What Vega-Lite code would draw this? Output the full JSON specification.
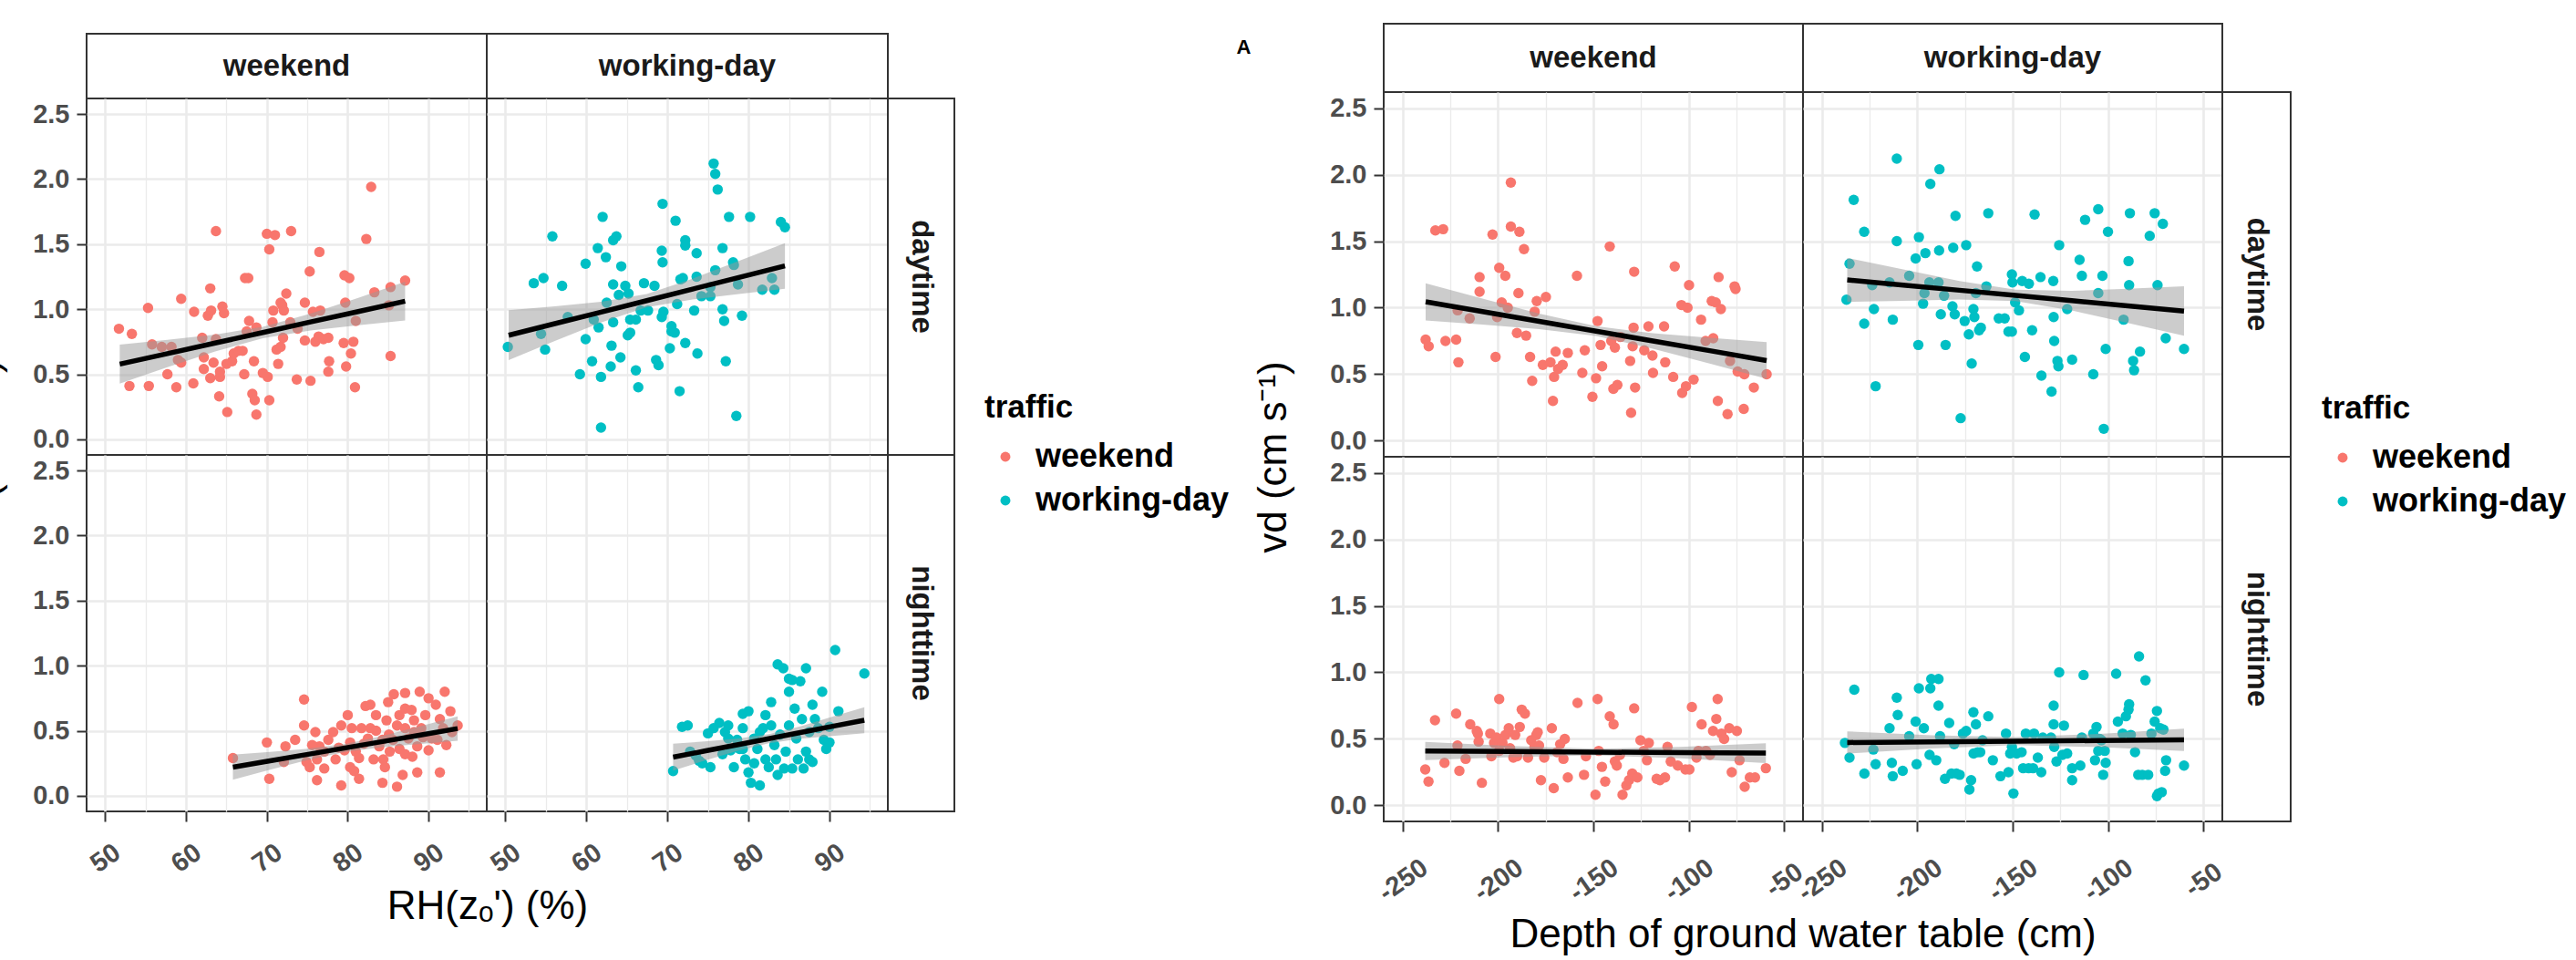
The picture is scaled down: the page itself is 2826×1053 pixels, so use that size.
{
"$schema": "https://vega.github.io/schema/vega-lite/v6.json",
"padding": {"left": -38, "top": 25, "right": 5, "bottom": 5},
"background": "white",
"spacing": 6,
"resolve": {"scale": {"color": "independent"}, "legend": {"color": "independent"}},
"config": {
  "font": "Liberation Sans",
  "view": {"stroke": "#333333", "strokeWidth": 2},
  "axis": {"domain": false, "gridColor": "#EBEBEB", "tickColor": "#333333", "tickSize": 11, "tickWidth": 2, "labelFont": "Liberation Sans", "labelFontSize": 29, "labelFontWeight": "bold", "labelColor": "#4D4D4D", "titleFont": "Liberation Sans", "titleFontSize": 44, "titleFontWeight": "normal", "titleColor": "#000000", "labelOverlap": false, "labelFlush": false, "labelBound": false},
  "legend": {"orient": "none", "titleFontSize": 35, "titleFontWeight": "bold", "titleColor": "#000000", "labelFontSize": 36, "labelFontWeight": "bold", "labelColor": "#000000", "labelLimit": 500, "symbolType": "circle", "symbolSize": 120, "symbolStrokeWidth": 0, "rowPadding": 12, "titlePadding": 18, "labelOffset": 15, "symbolOffset": 5}
},
"datasets": {
"L_we_d": [{"traffic":"weekend","RH":51.7,"vd":0.85},{"traffic":"weekend","RH":53.3,"vd":0.81},{"traffic":"weekend","RH":55.3,"vd":1.01},{"traffic":"weekend","RH":53.0,"vd":0.41},{"traffic":"weekend","RH":55.4,"vd":0.41},{"traffic":"weekend","RH":55.8,"vd":0.73},{"traffic":"weekend","RH":57.0,"vd":0.71},{"traffic":"weekend","RH":58.2,"vd":0.71},{"traffic":"weekend","RH":57.7,"vd":0.50},{"traffic":"weekend","RH":58.8,"vd":0.40},{"traffic":"weekend","RH":59.4,"vd":1.08},{"traffic":"weekend","RH":59.0,"vd":0.61},{"traffic":"weekend","RH":59.4,"vd":0.59},{"traffic":"weekend","RH":60.9,"vd":0.43},{"traffic":"weekend","RH":61.0,"vd":0.98},{"traffic":"weekend","RH":62.0,"vd":0.78},{"traffic":"weekend","RH":62.2,"vd":0.63},{"traffic":"weekend","RH":62.2,"vd":0.54},{"traffic":"weekend","RH":63.0,"vd":1.16},{"traffic":"weekend","RH":62.7,"vd":0.95},{"traffic":"weekend","RH":63.1,"vd":0.99},{"traffic":"weekend","RH":63.4,"vd":0.59},{"traffic":"weekend","RH":63.0,"vd":0.47},{"traffic":"weekend","RH":63.7,"vd":1.60},{"traffic":"weekend","RH":63.7,"vd":0.77},{"traffic":"weekend","RH":64.1,"vd":0.33},{"traffic":"weekend","RH":64.2,"vd":0.48},{"traffic":"weekend","RH":64.2,"vd":0.52},{"traffic":"weekend","RH":64.5,"vd":1.02},{"traffic":"weekend","RH":64.7,"vd":0.97},{"traffic":"weekend","RH":65.1,"vd":0.21},{"traffic":"weekend","RH":65.0,"vd":0.58},{"traffic":"weekend","RH":65.7,"vd":0.60},{"traffic":"weekend","RH":65.9,"vd":0.66},{"traffic":"weekend","RH":66.5,"vd":0.68},{"traffic":"weekend","RH":67.0,"vd":0.68},{"traffic":"weekend","RH":67.2,"vd":0.50},{"traffic":"weekend","RH":67.3,"vd":1.24},{"traffic":"weekend","RH":67.7,"vd":1.24},{"traffic":"weekend","RH":67.5,"vd":0.83},{"traffic":"weekend","RH":67.8,"vd":0.91},{"traffic":"weekend","RH":68.4,"vd":0.60},{"traffic":"weekend","RH":68.2,"vd":0.35},{"traffic":"weekend","RH":68.5,"vd":0.30},{"traffic":"weekend","RH":68.7,"vd":0.19},{"traffic":"weekend","RH":68.7,"vd":0.86},{"traffic":"weekend","RH":69.5,"vd":0.51},{"traffic":"weekend","RH":70.0,"vd":1.58},{"traffic":"weekend","RH":70.3,"vd":1.46},{"traffic":"weekend","RH":70.3,"vd":0.30},{"traffic":"weekend","RH":70.1,"vd":0.48},{"traffic":"weekend","RH":70.7,"vd":0.90},{"traffic":"weekend","RH":71.0,"vd":1.57},{"traffic":"weekend","RH":70.8,"vd":0.99},{"traffic":"weekend","RH":71.4,"vd":0.58},{"traffic":"weekend","RH":71.2,"vd":0.69},{"traffic":"weekend","RH":71.7,"vd":0.71},{"traffic":"weekend","RH":72.0,"vd":0.78},{"traffic":"weekend","RH":71.9,"vd":1.03},{"traffic":"weekend","RH":71.7,"vd":1.05},{"traffic":"weekend","RH":72.1,"vd":0.99},{"traffic":"weekend","RH":72.4,"vd":1.12},{"traffic":"weekend","RH":72.9,"vd":0.90},{"traffic":"weekend","RH":73.0,"vd":1.60},{"traffic":"weekend","RH":73.7,"vd":0.46},{"traffic":"weekend","RH":73.8,"vd":0.85},{"traffic":"weekend","RH":74.7,"vd":0.76},{"traffic":"weekend","RH":74.7,"vd":1.05},{"traffic":"weekend","RH":75.3,"vd":1.29},{"traffic":"weekend","RH":75.4,"vd":0.45},{"traffic":"weekend","RH":75.7,"vd":0.98},{"traffic":"weekend","RH":76.0,"vd":0.75},{"traffic":"weekend","RH":76.6,"vd":0.99},{"traffic":"weekend","RH":76.5,"vd":1.44},{"traffic":"weekend","RH":76.4,"vd":0.79},{"traffic":"weekend","RH":77.0,"vd":0.77},{"traffic":"weekend","RH":77.6,"vd":0.78},{"traffic":"weekend","RH":77.7,"vd":0.60},{"traffic":"weekend","RH":77.6,"vd":0.52},{"traffic":"weekend","RH":79.5,"vd":0.74},{"traffic":"weekend","RH":79.6,"vd":1.26},{"traffic":"weekend","RH":80.2,"vd":1.24},{"traffic":"weekend","RH":79.7,"vd":1.05},{"traffic":"weekend","RH":79.8,"vd":0.56},{"traffic":"weekend","RH":80.4,"vd":0.66},{"traffic":"weekend","RH":80.7,"vd":0.75},{"traffic":"weekend","RH":80.9,"vd":0.40},{"traffic":"weekend","RH":81.0,"vd":0.91},{"traffic":"weekend","RH":82.3,"vd":1.54},{"traffic":"weekend","RH":82.9,"vd":1.94},{"traffic":"weekend","RH":83.3,"vd":1.13},{"traffic":"weekend","RH":85.3,"vd":1.17},{"traffic":"weekend","RH":85.3,"vd":0.64},{"traffic":"weekend","RH":87.1,"vd":1.22},{"traffic":"weekend","RH":85.1,"vd":1.03}],
"L_wd_d": [{"traffic":"working-day","RH":50.3,"vd":0.71},{"traffic":"working-day","RH":53.5,"vd":1.20},{"traffic":"working-day","RH":54.7,"vd":1.24},{"traffic":"working-day","RH":54.4,"vd":0.81},{"traffic":"working-day","RH":54.9,"vd":0.69},{"traffic":"working-day","RH":55.8,"vd":1.56},{"traffic":"working-day","RH":57.0,"vd":1.18},{"traffic":"working-day","RH":57.7,"vd":0.94},{"traffic":"working-day","RH":59.2,"vd":0.50},{"traffic":"working-day","RH":59.9,"vd":1.35},{"traffic":"working-day","RH":59.9,"vd":0.77},{"traffic":"working-day","RH":60.7,"vd":0.60},{"traffic":"working-day","RH":60.9,"vd":0.92},{"traffic":"working-day","RH":61.4,"vd":1.47},{"traffic":"working-day","RH":61.5,"vd":0.86},{"traffic":"working-day","RH":61.8,"vd":0.48},{"traffic":"working-day","RH":61.8,"vd":0.09},{"traffic":"working-day","RH":62.0,"vd":1.71},{"traffic":"working-day","RH":62.4,"vd":1.40},{"traffic":"working-day","RH":63.0,"vd":0.56},{"traffic":"working-day","RH":63.1,"vd":0.72},{"traffic":"working-day","RH":63.3,"vd":0.90},{"traffic":"working-day","RH":63.3,"vd":1.19},{"traffic":"working-day","RH":63.3,"vd":1.53},{"traffic":"working-day","RH":63.7,"vd":1.56},{"traffic":"working-day","RH":64.0,"vd":1.11},{"traffic":"working-day","RH":64.2,"vd":0.63},{"traffic":"working-day","RH":64.3,"vd":1.33},{"traffic":"working-day","RH":64.8,"vd":1.18},{"traffic":"working-day","RH":65.2,"vd":1.12},{"traffic":"working-day","RH":65.4,"vd":0.92},{"traffic":"working-day","RH":65.1,"vd":0.80},{"traffic":"working-day","RH":65.4,"vd":0.82},{"traffic":"working-day","RH":66.1,"vd":0.53},{"traffic":"working-day","RH":66.1,"vd":0.92},{"traffic":"working-day","RH":66.4,"vd":0.40},{"traffic":"working-day","RH":66.7,"vd":0.99},{"traffic":"working-day","RH":67.1,"vd":1.20},{"traffic":"working-day","RH":67.6,"vd":0.99},{"traffic":"working-day","RH":68.4,"vd":1.18},{"traffic":"working-day","RH":68.6,"vd":0.61},{"traffic":"working-day","RH":68.9,"vd":0.57},{"traffic":"working-day","RH":69.3,"vd":1.45},{"traffic":"working-day","RH":69.4,"vd":1.36},{"traffic":"working-day","RH":69.3,"vd":0.94},{"traffic":"working-day","RH":69.5,"vd":0.98},{"traffic":"working-day","RH":69.4,"vd":1.81},{"traffic":"working-day","RH":70.3,"vd":0.70},{"traffic":"working-day","RH":70.5,"vd":0.87},{"traffic":"working-day","RH":70.5,"vd":0.83},{"traffic":"working-day","RH":70.9,"vd":0.82},{"traffic":"working-day","RH":71.0,"vd":1.68},{"traffic":"working-day","RH":71.2,"vd":1.04},{"traffic":"working-day","RH":71.5,"vd":0.37},{"traffic":"working-day","RH":71.6,"vd":1.23},{"traffic":"working-day","RH":71.9,"vd":1.24},{"traffic":"working-day","RH":72.2,"vd":1.53},{"traffic":"working-day","RH":72.2,"vd":1.49},{"traffic":"working-day","RH":72.2,"vd":0.74},{"traffic":"working-day","RH":73.3,"vd":0.99},{"traffic":"working-day","RH":73.6,"vd":1.43},{"traffic":"working-day","RH":73.6,"vd":1.25},{"traffic":"working-day","RH":73.7,"vd":0.66},{"traffic":"working-day","RH":74.2,"vd":1.10},{"traffic":"working-day","RH":75.3,"vd":1.10},{"traffic":"working-day","RH":75.7,"vd":2.12},{"traffic":"working-day","RH":75.9,"vd":2.04},{"traffic":"working-day","RH":76.2,"vd":1.92},{"traffic":"working-day","RH":75.9,"vd":1.30},{"traffic":"working-day","RH":76.8,"vd":1.47},{"traffic":"working-day","RH":76.8,"vd":1.00},{"traffic":"working-day","RH":77.0,"vd":0.91},{"traffic":"working-day","RH":77.2,"vd":0.60},{"traffic":"working-day","RH":77.6,"vd":1.71},{"traffic":"working-day","RH":78.1,"vd":1.36},{"traffic":"working-day","RH":78.2,"vd":1.34},{"traffic":"working-day","RH":78.5,"vd":0.18},{"traffic":"working-day","RH":78.7,"vd":1.19},{"traffic":"working-day","RH":79.2,"vd":0.95},{"traffic":"working-day","RH":80.2,"vd":1.71},{"traffic":"working-day","RH":81.7,"vd":1.15},{"traffic":"working-day","RH":82.9,"vd":1.24},{"traffic":"working-day","RH":83.2,"vd":1.15},{"traffic":"working-day","RH":84.0,"vd":1.67},{"traffic":"working-day","RH":84.5,"vd":1.63},{"traffic":"working-day","RH":62.5,"vd":1.05},{"traffic":"working-day","RH":75.3,"vd":1.17}],
"L_we_n": [{"traffic":"weekend","RH":65.8,"vd":0.29},{"traffic":"weekend","RH":70.0,"vd":0.41},{"traffic":"weekend","RH":70.3,"vd":0.13},{"traffic":"weekend","RH":72.3,"vd":0.38},{"traffic":"weekend","RH":72.1,"vd":0.26},{"traffic":"weekend","RH":74.6,"vd":0.74},{"traffic":"weekend","RH":74.6,"vd":0.54},{"traffic":"weekend","RH":74.9,"vd":0.26},{"traffic":"weekend","RH":75.3,"vd":0.22},{"traffic":"weekend","RH":76.0,"vd":0.49},{"traffic":"weekend","RH":76.2,"vd":0.12},{"traffic":"weekend","RH":76.5,"vd":0.38},{"traffic":"weekend","RH":76.2,"vd":0.28},{"traffic":"weekend","RH":77.1,"vd":0.34},{"traffic":"weekend","RH":77.6,"vd":0.43},{"traffic":"weekend","RH":78.9,"vd":0.37},{"traffic":"weekend","RH":79.2,"vd":0.54},{"traffic":"weekend","RH":80.0,"vd":0.62},{"traffic":"weekend","RH":79.2,"vd":0.08},{"traffic":"weekend","RH":80.3,"vd":0.22},{"traffic":"weekend","RH":80.8,"vd":0.19},{"traffic":"weekend","RH":81.4,"vd":0.29},{"traffic":"weekend","RH":82.0,"vd":0.40},{"traffic":"weekend","RH":80.3,"vd":0.41},{"traffic":"weekend","RH":82.5,"vd":0.44},{"traffic":"weekend","RH":82.8,"vd":0.52},{"traffic":"weekend","RH":82.2,"vd":0.69},{"traffic":"weekend","RH":83.5,"vd":0.62},{"traffic":"weekend","RH":83.5,"vd":0.50},{"traffic":"weekend","RH":83.9,"vd":0.38},{"traffic":"weekend","RH":84.4,"vd":0.28},{"traffic":"weekend","RH":84.6,"vd":0.22},{"traffic":"weekend","RH":85.0,"vd":0.72},{"traffic":"weekend","RH":85.1,"vd":0.47},{"traffic":"weekend","RH":85.2,"vd":0.34},{"traffic":"weekend","RH":85.7,"vd":0.78},{"traffic":"weekend","RH":86.1,"vd":0.54},{"traffic":"weekend","RH":86.4,"vd":0.62},{"traffic":"weekend","RH":86.4,"vd":0.36},{"traffic":"weekend","RH":86.1,"vd":0.07},{"traffic":"weekend","RH":86.8,"vd":0.16},{"traffic":"weekend","RH":87.1,"vd":0.67},{"traffic":"weekend","RH":87.1,"vd":0.79},{"traffic":"weekend","RH":87.5,"vd":0.44},{"traffic":"weekend","RH":87.9,"vd":0.66},{"traffic":"weekend","RH":88.0,"vd":0.30},{"traffic":"weekend","RH":88.2,"vd":0.49},{"traffic":"weekend","RH":88.6,"vd":0.38},{"traffic":"weekend","RH":88.9,"vd":0.80},{"traffic":"weekend","RH":89.1,"vd":0.52},{"traffic":"weekend","RH":89.6,"vd":0.62},{"traffic":"weekend","RH":90.0,"vd":0.35},{"traffic":"weekend","RH":90.4,"vd":0.44},{"traffic":"weekend","RH":90.0,"vd":0.75},{"traffic":"weekend","RH":91.4,"vd":0.59},{"traffic":"weekend","RH":91.8,"vd":0.52},{"traffic":"weekend","RH":92.0,"vd":0.80},{"traffic":"weekend","RH":92.2,"vd":0.39},{"traffic":"weekend","RH":92.7,"vd":0.65},{"traffic":"weekend","RH":92.9,"vd":0.49},{"traffic":"weekend","RH":93.6,"vd":0.54},{"traffic":"weekend","RH":91.4,"vd":0.18},{"traffic":"weekend","RH":88.6,"vd":0.18},{"traffic":"weekend","RH":78.2,"vd":0.49},{"traffic":"weekend","RH":78.5,"vd":0.28},{"traffic":"weekend","RH":79.6,"vd":0.35},{"traffic":"weekend","RH":81.0,"vd":0.34},{"traffic":"weekend","RH":81.7,"vd":0.52},{"traffic":"weekend","RH":83.2,"vd":0.28},{"traffic":"weekend","RH":84.3,"vd":0.43},{"traffic":"weekend","RH":84.8,"vd":0.58},{"traffic":"weekend","RH":85.6,"vd":0.43},{"traffic":"weekend","RH":84.3,"vd":0.10},{"traffic":"weekend","RH":87.1,"vd":0.32},{"traffic":"weekend","RH":88.2,"vd":0.58},{"traffic":"weekend","RH":89.3,"vd":0.45},{"traffic":"weekend","RH":91.1,"vd":0.43},{"traffic":"weekend","RH":73.5,"vd":0.43},{"traffic":"weekend","RH":75.6,"vd":0.39},{"traffic":"weekend","RH":82.8,"vd":0.70},{"traffic":"weekend","RH":80.5,"vd":0.52},{"traffic":"weekend","RH":87.1,"vd":0.52},{"traffic":"weekend","RH":90.9,"vd":0.70},{"traffic":"weekend","RH":81.4,"vd":0.13},{"traffic":"weekend","RH":77.1,"vd":0.21}],
"L_wd_n": [{"traffic":"working-day","RH":70.7,"vd":0.19},{"traffic":"working-day","RH":71.8,"vd":0.53},{"traffic":"working-day","RH":72.5,"vd":0.54},{"traffic":"working-day","RH":72.8,"vd":0.34},{"traffic":"working-day","RH":73.5,"vd":0.31},{"traffic":"working-day","RH":74.3,"vd":0.25},{"traffic":"working-day","RH":75.0,"vd":0.48},{"traffic":"working-day","RH":75.3,"vd":0.22},{"traffic":"working-day","RH":76.4,"vd":0.56},{"traffic":"working-day","RH":77.1,"vd":0.49},{"traffic":"working-day","RH":77.5,"vd":0.54},{"traffic":"working-day","RH":77.8,"vd":0.35},{"traffic":"working-day","RH":78.6,"vd":0.43},{"traffic":"working-day","RH":79.3,"vd":0.63},{"traffic":"working-day","RH":79.3,"vd":0.52},{"traffic":"working-day","RH":79.6,"vd":0.28},{"traffic":"working-day","RH":80.0,"vd":0.18},{"traffic":"working-day","RH":80.3,"vd":0.10},{"traffic":"working-day","RH":80.7,"vd":0.44},{"traffic":"working-day","RH":81.1,"vd":0.36},{"traffic":"working-day","RH":81.4,"vd":0.08},{"traffic":"working-day","RH":81.8,"vd":0.52},{"traffic":"working-day","RH":82.1,"vd":0.28},{"traffic":"working-day","RH":82.5,"vd":0.22},{"traffic":"working-day","RH":82.8,"vd":0.72},{"traffic":"working-day","RH":82.8,"vd":0.54},{"traffic":"working-day","RH":83.2,"vd":0.39},{"traffic":"working-day","RH":83.6,"vd":1.01},{"traffic":"working-day","RH":84.3,"vd":0.98},{"traffic":"working-day","RH":84.6,"vd":0.34},{"traffic":"working-day","RH":85.0,"vd":0.54},{"traffic":"working-day","RH":85.0,"vd":0.80},{"traffic":"working-day","RH":85.4,"vd":0.89},{"traffic":"working-day","RH":85.4,"vd":0.21},{"traffic":"working-day","RH":85.7,"vd":0.67},{"traffic":"working-day","RH":85.9,"vd":0.44},{"traffic":"working-day","RH":86.4,"vd":0.88},{"traffic":"working-day","RH":86.6,"vd":0.59},{"traffic":"working-day","RH":87.1,"vd":0.98},{"traffic":"working-day","RH":87.1,"vd":0.34},{"traffic":"working-day","RH":87.5,"vd":0.49},{"traffic":"working-day","RH":87.9,"vd":0.70},{"traffic":"working-day","RH":87.9,"vd":0.26},{"traffic":"working-day","RH":88.2,"vd":0.59},{"traffic":"working-day","RH":88.6,"vd":0.52},{"traffic":"working-day","RH":89.1,"vd":0.80},{"traffic":"working-day","RH":89.3,"vd":0.43},{"traffic":"working-day","RH":90.0,"vd":0.41},{"traffic":"working-day","RH":90.7,"vd":1.12},{"traffic":"working-day","RH":91.1,"vd":0.65},{"traffic":"working-day","RH":94.3,"vd":0.94},{"traffic":"working-day","RH":75.7,"vd":0.52},{"traffic":"working-day","RH":76.8,"vd":0.32},{"traffic":"working-day","RH":78.2,"vd":0.22},{"traffic":"working-day","RH":78.9,"vd":0.36},{"traffic":"working-day","RH":80.0,"vd":0.65},{"traffic":"working-day","RH":80.7,"vd":0.25},{"traffic":"working-day","RH":81.4,"vd":0.49},{"traffic":"working-day","RH":82.1,"vd":0.62},{"traffic":"working-day","RH":83.4,"vd":0.28},{"traffic":"working-day","RH":83.9,"vd":0.47},{"traffic":"working-day","RH":84.4,"vd":0.21},{"traffic":"working-day","RH":86.1,"vd":0.28},{"traffic":"working-day","RH":86.8,"vd":0.21},{"traffic":"working-day","RH":87.5,"vd":0.28},{"traffic":"working-day","RH":89.6,"vd":0.36},{"traffic":"working-day","RH":83.6,"vd":0.16},{"traffic":"working-day","RH":79.3,"vd":0.36},{"traffic":"working-day","RH":77.5,"vd":0.44},{"traffic":"working-day","RH":73.9,"vd":0.27},{"traffic":"working-day","RH":90.0,"vd":0.53},{"traffic":"working-day","RH":85.0,"vd":0.90}],
"R_we_d": [{"traffic":"weekend","depth":-238.0,"vd":0.76},{"traffic":"weekend","depth":-236.4,"vd":0.71},{"traffic":"weekend","depth":-232.9,"vd":1.58},{"traffic":"weekend","depth":-228.8,"vd":1.59},{"traffic":"weekend","depth":-227.6,"vd":0.75},{"traffic":"weekend","depth":-222.0,"vd":0.76},{"traffic":"weekend","depth":-220.8,"vd":0.59},{"traffic":"weekend","depth":-221.2,"vd":0.98},{"traffic":"weekend","depth":-214.9,"vd":0.92},{"traffic":"weekend","depth":-209.7,"vd":1.23},{"traffic":"weekend","depth":-209.7,"vd":1.12},{"traffic":"weekend","depth":-202.9,"vd":1.55},{"traffic":"weekend","depth":-201.3,"vd":0.63},{"traffic":"weekend","depth":-200.5,"vd":0.93},{"traffic":"weekend","depth":-199.4,"vd":1.30},{"traffic":"weekend","depth":-198.1,"vd":1.04},{"traffic":"weekend","depth":-196.2,"vd":1.24},{"traffic":"weekend","depth":-194.9,"vd":1.00},{"traffic":"weekend","depth":-193.3,"vd":1.94},{"traffic":"weekend","depth":-193.3,"vd":1.61},{"traffic":"weekend","depth":-190.1,"vd":0.81},{"traffic":"weekend","depth":-188.8,"vd":1.57},{"traffic":"weekend","depth":-189.3,"vd":1.11},{"traffic":"weekend","depth":-186.4,"vd":1.44},{"traffic":"weekend","depth":-185.3,"vd":0.79},{"traffic":"weekend","depth":-183.2,"vd":0.63},{"traffic":"weekend","depth":-182.1,"vd":0.45},{"traffic":"weekend","depth":-180.8,"vd":0.97},{"traffic":"weekend","depth":-179.7,"vd":1.05},{"traffic":"weekend","depth":-174.9,"vd":1.08},{"traffic":"weekend","depth":-176.5,"vd":0.57},{"traffic":"weekend","depth":-172.5,"vd":0.59},{"traffic":"weekend","depth":-169.8,"vd":0.67},{"traffic":"weekend","depth":-170.6,"vd":0.48},{"traffic":"weekend","depth":-171.2,"vd":0.30},{"traffic":"weekend","depth":-168.5,"vd":0.54},{"traffic":"weekend","depth":-166.1,"vd":0.57},{"traffic":"weekend","depth":-163.4,"vd":0.66},{"traffic":"weekend","depth":-158.6,"vd":1.24},{"traffic":"weekend","depth":-155.8,"vd":0.51},{"traffic":"weekend","depth":-154.5,"vd":0.68},{"traffic":"weekend","depth":-150.5,"vd":0.33},{"traffic":"weekend","depth":-148.6,"vd":0.47},{"traffic":"weekend","depth":-147.8,"vd":0.90},{"traffic":"weekend","depth":-146.2,"vd":0.72},{"traffic":"weekend","depth":-145.4,"vd":0.56},{"traffic":"weekend","depth":-141.4,"vd":1.46},{"traffic":"weekend","depth":-140.6,"vd":0.75},{"traffic":"weekend","depth":-139.5,"vd":0.39},{"traffic":"weekend","depth":-137.4,"vd":0.42},{"traffic":"weekend","depth":-138.7,"vd":0.70},{"traffic":"weekend","depth":-135.8,"vd":0.78},{"traffic":"weekend","depth":-130.2,"vd":0.21},{"traffic":"weekend","depth":-130.7,"vd":0.60},{"traffic":"weekend","depth":-128.6,"vd":1.27},{"traffic":"weekend","depth":-128.1,"vd":0.40},{"traffic":"weekend","depth":-128.9,"vd":0.85},{"traffic":"weekend","depth":-129.4,"vd":0.71},{"traffic":"weekend","depth":-123.3,"vd":0.68},{"traffic":"weekend","depth":-121.1,"vd":0.86},{"traffic":"weekend","depth":-119.0,"vd":0.64},{"traffic":"weekend","depth":-118.7,"vd":0.51},{"traffic":"weekend","depth":-112.9,"vd":0.86},{"traffic":"weekend","depth":-112.3,"vd":0.59},{"traffic":"weekend","depth":-108.1,"vd":0.48},{"traffic":"weekend","depth":-107.3,"vd":1.31},{"traffic":"weekend","depth":-103.8,"vd":1.02},{"traffic":"weekend","depth":-103.4,"vd":0.36},{"traffic":"weekend","depth":-100.6,"vd":1.00},{"traffic":"weekend","depth":-99.8,"vd":1.17},{"traffic":"weekend","depth":-101.4,"vd":0.41},{"traffic":"weekend","depth":-97.4,"vd":0.46},{"traffic":"weekend","depth":-93.5,"vd":0.91},{"traffic":"weekend","depth":-91.1,"vd":0.75},{"traffic":"weekend","depth":-87.1,"vd":0.77},{"traffic":"weekend","depth":-87.9,"vd":1.05},{"traffic":"weekend","depth":-85.8,"vd":1.04},{"traffic":"weekend","depth":-83.1,"vd":0.99},{"traffic":"weekend","depth":-84.3,"vd":1.23},{"traffic":"weekend","depth":-84.7,"vd":0.30},{"traffic":"weekend","depth":-79.6,"vd":0.20},{"traffic":"weekend","depth":-78.3,"vd":0.60},{"traffic":"weekend","depth":-75.9,"vd":1.16},{"traffic":"weekend","depth":-75.4,"vd":1.14},{"traffic":"weekend","depth":-74.3,"vd":0.52},{"traffic":"weekend","depth":-70.8,"vd":0.50},{"traffic":"weekend","depth":-71.1,"vd":0.24},{"traffic":"weekend","depth":-65.8,"vd":0.40},{"traffic":"weekend","depth":-59.1,"vd":0.50}],
"R_wd_d": [{"traffic":"working-day","depth":-237.2,"vd":1.06},{"traffic":"working-day","depth":-235.6,"vd":1.33},{"traffic":"working-day","depth":-233.4,"vd":1.81},{"traffic":"working-day","depth":-227.9,"vd":1.57},{"traffic":"working-day","depth":-227.9,"vd":0.88},{"traffic":"working-day","depth":-222.8,"vd":0.99},{"traffic":"working-day","depth":-223.7,"vd":1.17},{"traffic":"working-day","depth":-221.9,"vd":0.41},{"traffic":"working-day","depth":-214.6,"vd":1.19},{"traffic":"working-day","depth":-212.9,"vd":0.91},{"traffic":"working-day","depth":-210.8,"vd":2.12},{"traffic":"working-day","depth":-210.8,"vd":1.50},{"traffic":"working-day","depth":-204.3,"vd":1.24},{"traffic":"working-day","depth":-200.9,"vd":1.37},{"traffic":"working-day","depth":-199.5,"vd":0.72},{"traffic":"working-day","depth":-199.2,"vd":1.53},{"traffic":"working-day","depth":-197.0,"vd":1.03},{"traffic":"working-day","depth":-196.3,"vd":1.11},{"traffic":"working-day","depth":-195.8,"vd":1.41},{"traffic":"working-day","depth":-193.7,"vd":1.19},{"traffic":"working-day","depth":-193.2,"vd":1.93},{"traffic":"working-day","depth":-188.9,"vd":1.19},{"traffic":"working-day","depth":-188.6,"vd":1.43},{"traffic":"working-day","depth":-188.4,"vd":2.04},{"traffic":"working-day","depth":-187.7,"vd":0.95},{"traffic":"working-day","depth":-186.0,"vd":1.09},{"traffic":"working-day","depth":-185.2,"vd":0.72},{"traffic":"working-day","depth":-181.6,"vd":1.01},{"traffic":"working-day","depth":-181.2,"vd":1.45},{"traffic":"working-day","depth":-180.4,"vd":0.95},{"traffic":"working-day","depth":-180.0,"vd":1.69},{"traffic":"working-day","depth":-175.2,"vd":0.90},{"traffic":"working-day","depth":-174.4,"vd":1.47},{"traffic":"working-day","depth":-173.0,"vd":0.80},{"traffic":"working-day","depth":-171.5,"vd":0.58},{"traffic":"working-day","depth":-170.6,"vd":0.99},{"traffic":"working-day","depth":-170.1,"vd":0.93},{"traffic":"working-day","depth":-169.3,"vd":1.11},{"traffic":"working-day","depth":-168.7,"vd":1.31},{"traffic":"working-day","depth":-166.7,"vd":0.85},{"traffic":"working-day","depth":-167.6,"vd":0.83},{"traffic":"working-day","depth":-163.8,"vd":1.16},{"traffic":"working-day","depth":-162.8,"vd":1.71},{"traffic":"working-day","depth":-177.3,"vd":0.17},{"traffic":"working-day","depth":-157.3,"vd":0.92},{"traffic":"working-day","depth":-154.2,"vd":0.92},{"traffic":"working-day","depth":-152.2,"vd":0.82},{"traffic":"working-day","depth":-150.4,"vd":0.82},{"traffic":"working-day","depth":-150.4,"vd":1.25},{"traffic":"working-day","depth":-150.1,"vd":1.19},{"traffic":"working-day","depth":-148.7,"vd":1.04},{"traffic":"working-day","depth":-146.7,"vd":0.98},{"traffic":"working-day","depth":-145.0,"vd":1.20},{"traffic":"working-day","depth":-143.6,"vd":0.63},{"traffic":"working-day","depth":-141.5,"vd":1.18},{"traffic":"working-day","depth":-139.8,"vd":0.83},{"traffic":"working-day","depth":-138.5,"vd":1.70},{"traffic":"working-day","depth":-135.4,"vd":1.23},{"traffic":"working-day","depth":-134.9,"vd":0.49},{"traffic":"working-day","depth":-129.6,"vd":0.37},{"traffic":"working-day","depth":-128.7,"vd":1.20},{"traffic":"working-day","depth":-128.5,"vd":0.93},{"traffic":"working-day","depth":-128.2,"vd":0.75},{"traffic":"working-day","depth":-126.5,"vd":0.60},{"traffic":"working-day","depth":-126.0,"vd":0.56},{"traffic":"working-day","depth":-125.6,"vd":1.47},{"traffic":"working-day","depth":-121.4,"vd":0.99},{"traffic":"working-day","depth":-118.8,"vd":0.61},{"traffic":"working-day","depth":-114.9,"vd":1.36},{"traffic":"working-day","depth":-113.7,"vd":1.24},{"traffic":"working-day","depth":-112.0,"vd":1.66},{"traffic":"working-day","depth":-107.7,"vd":0.50},{"traffic":"working-day","depth":-105.1,"vd":1.74},{"traffic":"working-day","depth":-105.1,"vd":1.11},{"traffic":"working-day","depth":-102.9,"vd":1.24},{"traffic":"working-day","depth":-102.2,"vd":0.09},{"traffic":"working-day","depth":-101.2,"vd":0.69},{"traffic":"working-day","depth":-100.0,"vd":1.57},{"traffic":"working-day","depth":-91.8,"vd":0.91},{"traffic":"working-day","depth":-89.2,"vd":1.35},{"traffic":"working-day","depth":-88.9,"vd":1.17},{"traffic":"working-day","depth":-88.5,"vd":1.71},{"traffic":"working-day","depth":-86.8,"vd":0.60},{"traffic":"working-day","depth":-86.3,"vd":0.53},{"traffic":"working-day","depth":-83.2,"vd":0.67},{"traffic":"working-day","depth":-78.1,"vd":1.54},{"traffic":"working-day","depth":-75.5,"vd":1.71},{"traffic":"working-day","depth":-74.0,"vd":1.17},{"traffic":"working-day","depth":-71.2,"vd":1.63},{"traffic":"working-day","depth":-69.7,"vd":0.77},{"traffic":"working-day","depth":-60.1,"vd":0.69}],
"R_we_n": [{"traffic":"weekend","depth":-238.2,"vd":0.27},{"traffic":"weekend","depth":-236.5,"vd":0.18},{"traffic":"weekend","depth":-233.1,"vd":0.64},{"traffic":"weekend","depth":-228.1,"vd":0.32},{"traffic":"weekend","depth":-222.0,"vd":0.69},{"traffic":"weekend","depth":-220.3,"vd":0.26},{"traffic":"weekend","depth":-221.3,"vd":0.45},{"traffic":"weekend","depth":-217.0,"vd":0.35},{"traffic":"weekend","depth":-214.6,"vd":0.61},{"traffic":"weekend","depth":-211.2,"vd":0.56},{"traffic":"weekend","depth":-210.6,"vd":0.54},{"traffic":"weekend","depth":-208.5,"vd":0.17},{"traffic":"weekend","depth":-210.2,"vd":0.48},{"traffic":"weekend","depth":-204.1,"vd":0.54},{"traffic":"weekend","depth":-203.5,"vd":0.37},{"traffic":"weekend","depth":-202.1,"vd":0.47},{"traffic":"weekend","depth":-200.8,"vd":0.51},{"traffic":"weekend","depth":-199.4,"vd":0.80},{"traffic":"weekend","depth":-199.4,"vd":0.41},{"traffic":"weekend","depth":-197.7,"vd":0.47},{"traffic":"weekend","depth":-196.1,"vd":0.53},{"traffic":"weekend","depth":-194.4,"vd":0.58},{"traffic":"weekend","depth":-193.7,"vd":0.43},{"traffic":"weekend","depth":-192.0,"vd":0.36},{"traffic":"weekend","depth":-191.0,"vd":0.53},{"traffic":"weekend","depth":-190.0,"vd":0.37},{"traffic":"weekend","depth":-188.6,"vd":0.59},{"traffic":"weekend","depth":-187.6,"vd":0.72},{"traffic":"weekend","depth":-185.9,"vd":0.69},{"traffic":"weekend","depth":-184.3,"vd":0.36},{"traffic":"weekend","depth":-182.6,"vd":0.49},{"traffic":"weekend","depth":-180.9,"vd":0.44},{"traffic":"weekend","depth":-179.9,"vd":0.53},{"traffic":"weekend","depth":-179.2,"vd":0.55},{"traffic":"weekend","depth":-178.5,"vd":0.45},{"traffic":"weekend","depth":-177.5,"vd":0.19},{"traffic":"weekend","depth":-175.8,"vd":0.36},{"traffic":"weekend","depth":-171.8,"vd":0.58},{"traffic":"weekend","depth":-170.8,"vd":0.13},{"traffic":"weekend","depth":-169.1,"vd":0.40},{"traffic":"weekend","depth":-167.4,"vd":0.46},{"traffic":"weekend","depth":-165.7,"vd":0.35},{"traffic":"weekend","depth":-165.0,"vd":0.50},{"traffic":"weekend","depth":-163.4,"vd":0.21},{"traffic":"weekend","depth":-158.3,"vd":0.77},{"traffic":"weekend","depth":-154.9,"vd":0.23},{"traffic":"weekend","depth":-153.9,"vd":0.37},{"traffic":"weekend","depth":-148.9,"vd":0.08},{"traffic":"weekend","depth":-147.8,"vd":0.80},{"traffic":"weekend","depth":-147.2,"vd":0.41},{"traffic":"weekend","depth":-145.5,"vd":0.29},{"traffic":"weekend","depth":-143.8,"vd":0.18},{"traffic":"weekend","depth":-141.4,"vd":0.67},{"traffic":"weekend","depth":-139.4,"vd":0.61},{"traffic":"weekend","depth":-138.7,"vd":0.33},{"traffic":"weekend","depth":-137.7,"vd":0.30},{"traffic":"weekend","depth":-136.0,"vd":0.38},{"traffic":"weekend","depth":-134.7,"vd":0.08},{"traffic":"weekend","depth":-132.7,"vd":0.15},{"traffic":"weekend","depth":-131.3,"vd":0.19},{"traffic":"weekend","depth":-129.6,"vd":0.24},{"traffic":"weekend","depth":-128.6,"vd":0.73},{"traffic":"weekend","depth":-126.9,"vd":0.21},{"traffic":"weekend","depth":-125.3,"vd":0.49},{"traffic":"weekend","depth":-123.6,"vd":0.41},{"traffic":"weekend","depth":-121.9,"vd":0.34},{"traffic":"weekend","depth":-120.9,"vd":0.47},{"traffic":"weekend","depth":-116.8,"vd":0.20},{"traffic":"weekend","depth":-115.1,"vd":0.19},{"traffic":"weekend","depth":-112.4,"vd":0.21},{"traffic":"weekend","depth":-111.1,"vd":0.44},{"traffic":"weekend","depth":-109.4,"vd":0.33},{"traffic":"weekend","depth":-105.7,"vd":0.30},{"traffic":"weekend","depth":-101.7,"vd":0.27},{"traffic":"weekend","depth":-99.6,"vd":0.27},{"traffic":"weekend","depth":-98.3,"vd":0.74},{"traffic":"weekend","depth":-95.9,"vd":0.36},{"traffic":"weekend","depth":-94.9,"vd":0.41},{"traffic":"weekend","depth":-93.2,"vd":0.61},{"traffic":"weekend","depth":-90.9,"vd":0.41},{"traffic":"weekend","depth":-88.8,"vd":0.38},{"traffic":"weekend","depth":-87.2,"vd":0.56},{"traffic":"weekend","depth":-85.5,"vd":0.65},{"traffic":"weekend","depth":-84.8,"vd":0.80},{"traffic":"weekend","depth":-82.8,"vd":0.54},{"traffic":"weekend","depth":-81.4,"vd":0.50},{"traffic":"weekend","depth":-78.7,"vd":0.58},{"traffic":"weekend","depth":-77.4,"vd":0.25},{"traffic":"weekend","depth":-74.7,"vd":0.56},{"traffic":"weekend","depth":-73.3,"vd":0.34},{"traffic":"weekend","depth":-70.6,"vd":0.14},{"traffic":"weekend","depth":-67.9,"vd":0.21},{"traffic":"weekend","depth":-65.2,"vd":0.21},{"traffic":"weekend","depth":-59.5,"vd":0.28}],
"R_wd_n": [{"traffic":"working-day","depth":-238.0,"vd":0.47},{"traffic":"working-day","depth":-235.6,"vd":0.36},{"traffic":"working-day","depth":-233.1,"vd":0.87},{"traffic":"working-day","depth":-227.8,"vd":0.24},{"traffic":"working-day","depth":-223.1,"vd":0.42},{"traffic":"working-day","depth":-221.9,"vd":0.31},{"traffic":"working-day","depth":-214.6,"vd":0.58},{"traffic":"working-day","depth":-213.4,"vd":0.32},{"traffic":"working-day","depth":-212.9,"vd":0.22},{"traffic":"working-day","depth":-210.8,"vd":0.81},{"traffic":"working-day","depth":-210.3,"vd":0.68},{"traffic":"working-day","depth":-207.7,"vd":0.26},{"traffic":"working-day","depth":-204.3,"vd":0.52},{"traffic":"working-day","depth":-200.9,"vd":0.63},{"traffic":"working-day","depth":-200.4,"vd":0.31},{"traffic":"working-day","depth":-199.2,"vd":0.88},{"traffic":"working-day","depth":-196.6,"vd":0.58},{"traffic":"working-day","depth":-193.6,"vd":0.38},{"traffic":"working-day","depth":-193.2,"vd":0.88},{"traffic":"working-day","depth":-192.7,"vd":0.95},{"traffic":"working-day","depth":-190.1,"vd":0.34},{"traffic":"working-day","depth":-188.9,"vd":0.95},{"traffic":"working-day","depth":-188.9,"vd":0.75},{"traffic":"working-day","depth":-188.1,"vd":0.52},{"traffic":"working-day","depth":-185.5,"vd":0.20},{"traffic":"working-day","depth":-183.3,"vd":0.62},{"traffic":"working-day","depth":-182.1,"vd":0.24},{"traffic":"working-day","depth":-180.7,"vd":0.46},{"traffic":"working-day","depth":-179.5,"vd":0.24},{"traffic":"working-day","depth":-177.8,"vd":0.23},{"traffic":"working-day","depth":-176.1,"vd":0.54},{"traffic":"working-day","depth":-174.4,"vd":0.56},{"traffic":"working-day","depth":-172.7,"vd":0.12},{"traffic":"working-day","depth":-171.8,"vd":0.19},{"traffic":"working-day","depth":-170.6,"vd":0.70},{"traffic":"working-day","depth":-170.5,"vd":0.39},{"traffic":"working-day","depth":-169.3,"vd":0.61},{"traffic":"working-day","depth":-168.4,"vd":0.40},{"traffic":"working-day","depth":-167.0,"vd":0.40},{"traffic":"working-day","depth":-165.8,"vd":0.49},{"traffic":"working-day","depth":-162.8,"vd":0.67},{"traffic":"working-day","depth":-160.4,"vd":0.34},{"traffic":"working-day","depth":-156.4,"vd":0.22},{"traffic":"working-day","depth":-153.5,"vd":0.54},{"traffic":"working-day","depth":-152.2,"vd":0.25},{"traffic":"working-day","depth":-151.3,"vd":0.39},{"traffic":"working-day","depth":-149.6,"vd":0.09},{"traffic":"working-day","depth":-150.4,"vd":0.44},{"traffic":"working-day","depth":-147.9,"vd":0.39},{"traffic":"working-day","depth":-145.3,"vd":0.40},{"traffic":"working-day","depth":-144.5,"vd":0.28},{"traffic":"working-day","depth":-143.1,"vd":0.54},{"traffic":"working-day","depth":-141.6,"vd":0.28},{"traffic":"working-day","depth":-139.3,"vd":0.28},{"traffic":"working-day","depth":-138.8,"vd":0.54},{"traffic":"working-day","depth":-136.8,"vd":0.36},{"traffic":"working-day","depth":-135.0,"vd":0.25},{"traffic":"working-day","depth":-134.2,"vd":0.51},{"traffic":"working-day","depth":-129.9,"vd":0.51},{"traffic":"working-day","depth":-128.5,"vd":0.61},{"traffic":"working-day","depth":-128.5,"vd":0.75},{"traffic":"working-day","depth":-128.2,"vd":0.44},{"traffic":"working-day","depth":-127.0,"vd":0.33},{"traffic":"working-day","depth":-125.6,"vd":1.00},{"traffic":"working-day","depth":-123.9,"vd":0.38},{"traffic":"working-day","depth":-123.1,"vd":0.60},{"traffic":"working-day","depth":-121.4,"vd":0.39},{"traffic":"working-day","depth":-118.8,"vd":0.28},{"traffic":"working-day","depth":-118.8,"vd":0.19},{"traffic":"working-day","depth":-114.5,"vd":0.30},{"traffic":"working-day","depth":-113.7,"vd":0.51},{"traffic":"working-day","depth":-112.8,"vd":0.98},{"traffic":"working-day","depth":-107.7,"vd":0.54},{"traffic":"working-day","depth":-106.8,"vd":0.34},{"traffic":"working-day","depth":-106.0,"vd":0.59},{"traffic":"working-day","depth":-105.1,"vd":0.41},{"traffic":"working-day","depth":-104.3,"vd":0.50},{"traffic":"working-day","depth":-103.4,"vd":0.49},{"traffic":"working-day","depth":-102.5,"vd":0.23},{"traffic":"working-day","depth":-101.7,"vd":0.41},{"traffic":"working-day","depth":-101.2,"vd":0.32},{"traffic":"working-day","depth":-95.7,"vd":0.99},{"traffic":"working-day","depth":-94.8,"vd":0.63},{"traffic":"working-day","depth":-92.3,"vd":0.54},{"traffic":"working-day","depth":-90.6,"vd":0.67},{"traffic":"working-day","depth":-88.9,"vd":0.76},{"traffic":"working-day","depth":-89.2,"vd":0.72},{"traffic":"working-day","depth":-88.0,"vd":0.53},{"traffic":"working-day","depth":-85.8,"vd":0.40},{"traffic":"working-day","depth":-84.1,"vd":0.23},{"traffic":"working-day","depth":-83.7,"vd":1.12},{"traffic":"working-day","depth":-82.0,"vd":0.23},{"traffic":"working-day","depth":-80.3,"vd":0.94},{"traffic":"working-day","depth":-78.9,"vd":0.23},{"traffic":"working-day","depth":-77.2,"vd":0.54},{"traffic":"working-day","depth":-75.5,"vd":0.63},{"traffic":"working-day","depth":-74.3,"vd":0.71},{"traffic":"working-day","depth":-74.3,"vd":0.07},{"traffic":"working-day","depth":-73.5,"vd":0.09},{"traffic":"working-day","depth":-72.6,"vd":0.58},{"traffic":"working-day","depth":-71.8,"vd":0.10},{"traffic":"working-day","depth":-70.9,"vd":0.57},{"traffic":"working-day","depth":-70.0,"vd":0.26},{"traffic":"working-day","depth":-69.5,"vd":0.34},{"traffic":"working-day","depth":-60.1,"vd":0.30}],
"fL_we_d": [{"RH":51.8,"fit":0.578,"lo":0.428,"hi":0.728},{"RH":57.7,"fit":0.659,"lo":0.554,"hi":0.764},{"RH":63.6,"fit":0.740,"lo":0.675,"hi":0.805},{"RH":69.5,"fit":0.821,"lo":0.777,"hi":0.865},{"RH":75.4,"fit":0.902,"lo":0.837,"hi":0.967},{"RH":81.3,"fit":0.982,"lo":0.877,"hi":1.087},{"RH":87.1,"fit":1.062,"lo":0.913,"hi":1.211}],
"fL_wd_d": [{"RH":50.4,"fit":0.800,"lo":0.608,"hi":0.992},{"RH":56.1,"fit":0.889,"lo":0.756,"hi":1.022},{"RH":61.8,"fit":0.978,"lo":0.898,"hi":1.058},{"RH":67.45,"fit":1.066,"lo":1.015,"hi":1.117},{"RH":73.1,"fit":1.155,"lo":1.075,"hi":1.235},{"RH":78.8,"fit":1.244,"lo":1.117,"hi":1.371},{"RH":84.5,"fit":1.333,"lo":1.158,"hi":1.508}],
"fL_we_n": [{"RH":65.8,"fit":0.220,"lo":0.123,"hi":0.317},{"RH":70.4,"fit":0.269,"lo":0.200,"hi":0.338},{"RH":75.1,"fit":0.319,"lo":0.276,"hi":0.362},{"RH":79.7,"fit":0.368,"lo":0.338,"hi":0.398},{"RH":84.3,"fit":0.417,"lo":0.374,"hi":0.460},{"RH":89.0,"fit":0.467,"lo":0.398,"hi":0.536},{"RH":93.6,"fit":0.517,"lo":0.423,"hi":0.611}],
"fL_wd_n": [{"RH":70.7,"fit":0.297,"lo":0.194,"hi":0.400},{"RH":74.6,"fit":0.344,"lo":0.270,"hi":0.418},{"RH":78.6,"fit":0.392,"lo":0.345,"hi":0.439},{"RH":82.5,"fit":0.439,"lo":0.404,"hi":0.474},{"RH":86.4,"fit":0.486,"lo":0.439,"hi":0.533},{"RH":90.4,"fit":0.534,"lo":0.460,"hi":0.608},{"RH":94.3,"fit":0.581,"lo":0.481,"hi":0.681}],
"fR_we_d": [{"depth":-238.0,"fit":1.044,"lo":0.904,"hi":1.184},{"depth":-208.2,"fit":0.971,"lo":0.874,"hi":1.068},{"depth":-178.4,"fit":0.897,"lo":0.839,"hi":0.955},{"depth":-148.6,"fit":0.824,"lo":0.787,"hi":0.861},{"depth":-118.8,"fit":0.750,"lo":0.692,"hi":0.808},{"depth":-89.0,"fit":0.677,"lo":0.580,"hi":0.774},{"depth":-59.1,"fit":0.603,"lo":0.465,"hi":0.741}],
"fR_wd_d": [{"depth":-236.8,"fit":1.209,"lo":1.044,"hi":1.374},{"depth":-207.4,"fit":1.170,"lo":1.052,"hi":1.288},{"depth":-177.9,"fit":1.131,"lo":1.061,"hi":1.201},{"depth":-148.5,"fit":1.092,"lo":1.049,"hi":1.135},{"depth":-119.0,"fit":1.053,"lo":0.979,"hi":1.127},{"depth":-89.6,"fit":1.014,"lo":0.886,"hi":1.142},{"depth":-60.1,"fit":0.975,"lo":0.789,"hi":1.161}],
"fR_we_n": [{"depth":-238.2,"fit":0.409,"lo":0.341,"hi":0.477},{"depth":-193.5,"fit":0.405,"lo":0.363,"hi":0.447},{"depth":-148.9,"fit":0.401,"lo":0.376,"hi":0.426},{"depth":-104.2,"fit":0.397,"lo":0.354,"hi":0.440},{"depth":-59.5,"fit":0.393,"lo":0.318,"hi":0.468}],
"fR_wd_n": [{"depth":-236.8,"fit":0.473,"lo":0.389,"hi":0.557},{"depth":-192.6,"fit":0.478,"lo":0.428,"hi":0.528},{"depth":-148.4,"fit":0.483,"lo":0.453,"hi":0.513},{"depth":-104.3,"fit":0.488,"lo":0.438,"hi":0.538},{"depth":-60.1,"fit":0.493,"lo":0.409,"hi":0.577}]
},
"hconcat": [
{
  "columns": 3, "align": "each", "bounds": "flush", "spacing": 0,
  "concat": [
    {"width": 439, "height": 11, "view": {"stroke": null}, "data": {"values": [{"k": ""}]}, "mark": {"type": "text"}, "encoding": {"text": {"field": "k", "type": "nominal"}}},
    {"width": 440, "height": 11, "view": {"stroke": null}, "data": {"values": [{"k": ""}]}, "mark": {"type": "text"}, "encoding": {"text": {"field": "k", "type": "nominal"}}},
    {"width": 73, "height": 11, "view": {"stroke": null}, "data": {"values": [{"k": ""}]}, "mark": {"type": "text"}, "encoding": {"text": {"field": "k", "type": "nominal"}}},
    {"width": 439, "height": 71, "data": {"values": [{"traffic": "weekend"}]}, "mark": {"type": "text", "fontSize": 33, "fontWeight": "bold", "color": "#1A1A1A"}, "encoding": {"text": {"field": "traffic", "type": "nominal"}, "y": {"datum": 0.5, "type": "quantitative", "scale": {"domain": [0, 1]}, "axis": {"title": null, "labels": false, "ticks": false, "grid": false, "domain": false}}}},
    {"width": 440, "height": 71, "data": {"values": [{"traffic": "working-day"}]}, "mark": {"type": "text", "fontSize": 33, "fontWeight": "bold", "color": "#1A1A1A"}, "encoding": {"text": {"field": "traffic", "type": "nominal"}, "y": {"datum": 0.5, "type": "quantitative", "scale": {"domain": [0, 1]}, "axis": {"title": null, "labels": false, "ticks": false, "grid": false, "domain": false}}}},
    {"width": 73, "height": 71, "view": {"stroke": null}, "data": {"values": [{"k": ""}]}, "mark": {"type": "text"}, "encoding": {"text": {"field": "k", "type": "nominal"}}},
    {"width": 439, "height": 391, "layer": [
      {"data": {"name": "L_we_d"}, "mark": {"type": "circle", "size": 130, "opacity": 1}, "encoding": {
        "x": {"field": "RH", "type": "quantitative", "scale": {"domain": [47.7, 97.2], "nice": false, "zero": false}, "axis": {"values": [50,55,60,65,70,75,80,85,90,95], "gridWidth": {"condition": {"test": "datum.value % 10 !== 0", "value": 1.3}, "value": 2.6}, "labels": false, "ticks": false, "title": null}},
        "y": {"field": "vd", "type": "quantitative", "scale": {"domain": [-0.12, 2.62], "nice": false, "zero": false}, "axis": {"values": [0,0.25,0.5,0.75,1,1.25,1.5,1.75,2,2.25,2.5], "gridWidth": {"condition": {"test": "datum.value % 0.5 !== 0", "value": 1.3}, "value": 2.6}, "tickOpacity": {"condition": {"test": "datum.value % 0.5 !== 0", "value": 0}, "value": 1}, "labelExpr": "datum.value % 0.5 === 0 ? format(datum.value, '.1f') : ''", "labelPadding": 8, "title": "vd  (cm  s⁻¹)", "titleX": -97, "titleY": 391, "titleAngle": -90, "titleAlign": "center", "titleBaseline": "alphabetic"}},
        "color": {"field": "traffic", "type": "nominal", "scale": {"domain": ["weekend", "working-day"], "range": ["#F8766D", "#00BFC4"]}, "legend": {"title": "traffic", "legendX": 985, "legendY": 404}}}},
      {"data": {"name": "fL_we_d"}, "mark": {"type": "area", "color": "#999999", "opacity": 0.5}, "encoding": {"x": {"field": "RH", "type": "quantitative"}, "y": {"field": "lo", "type": "quantitative"}, "y2": {"field": "hi"}}},
      {"data": {"name": "fL_we_d"}, "mark": {"type": "line", "color": "#000000", "strokeWidth": 5.5}, "encoding": {"x": {"field": "RH", "type": "quantitative"}, "y": {"field": "fit", "type": "quantitative"}}}
    ]},
    {"width": 440, "height": 391, "layer": [
      {"data": {"name": "L_wd_d"}, "mark": {"type": "circle", "size": 130, "opacity": 1}, "encoding": {
        "x": {"field": "RH", "type": "quantitative", "scale": {"domain": [47.7, 97.2], "nice": false, "zero": false}, "axis": {"values": [50,55,60,65,70,75,80,85,90,95], "gridWidth": {"condition": {"test": "datum.value % 10 !== 0", "value": 1.3}, "value": 2.6}, "labels": false, "ticks": false, "title": null}},
        "y": {"field": "vd", "type": "quantitative", "scale": {"domain": [-0.12, 2.62], "nice": false, "zero": false}, "axis": {"values": [0,0.25,0.5,0.75,1,1.25,1.5,1.75,2,2.25,2.5], "gridWidth": {"condition": {"test": "datum.value % 0.5 !== 0", "value": 1.3}, "value": 2.6}, "labels": false, "ticks": false, "title": null}},
        "color": {"field": "traffic", "type": "nominal", "scale": {"domain": ["weekend", "working-day"], "range": ["#F8766D", "#00BFC4"]}, "legend": {"title": "traffic", "legendX": 985, "legendY": 404}}}},
      {"data": {"name": "fL_wd_d"}, "mark": {"type": "area", "color": "#999999", "opacity": 0.5}, "encoding": {"x": {"field": "RH", "type": "quantitative"}, "y": {"field": "lo", "type": "quantitative"}, "y2": {"field": "hi"}}},
      {"data": {"name": "fL_wd_d"}, "mark": {"type": "line", "color": "#000000", "strokeWidth": 5.5}, "encoding": {"x": {"field": "RH", "type": "quantitative"}, "y": {"field": "fit", "type": "quantitative"}}}
    ]},
    {"width": 73, "height": 391, "data": {"values": [{"time": "daytime"}]}, "mark": {"type": "text", "fontSize": 33, "fontWeight": "bold", "angle": 90, "color": "#1A1A1A"}, "encoding": {"text": {"field": "time", "type": "nominal"}, "y": {"datum": 0.5, "type": "quantitative", "scale": {"domain": [0, 1]}, "axis": {"title": null, "labels": false, "ticks": false, "grid": false, "domain": false}}}},
    {"width": 439, "height": 391, "layer": [
      {"data": {"name": "L_we_n"}, "mark": {"type": "circle", "size": 130, "opacity": 1}, "encoding": {
        "x": {"field": "RH", "type": "quantitative", "scale": {"domain": [47.7, 97.2], "nice": false, "zero": false}, "axis": {"values": [50,55,60,65,70,75,80,85,90,95], "gridWidth": {"condition": {"test": "datum.value % 10 !== 0", "value": 1.3}, "value": 2.6}, "tickOpacity": {"condition": {"test": "datum.value % 10 !== 0", "value": 0}, "value": 1}, "labelExpr": "datum.value % 10 === 0 ? '' + datum.value : ''", "labelAngle": -35, "labelAlign": "center", "labelBaseline": "middle", "labelPadding": 40, "title": "RH(zₒ')  (%)", "titleX": 439.5, "titleY": 117, "titleAlign": "center", "titleBaseline": "alphabetic"}},
        "y": {"field": "vd", "type": "quantitative", "scale": {"domain": [-0.12, 2.62], "nice": false, "zero": false}, "axis": {"values": [0,0.25,0.5,0.75,1,1.25,1.5,1.75,2,2.25,2.5], "gridWidth": {"condition": {"test": "datum.value % 0.5 !== 0", "value": 1.3}, "value": 2.6}, "tickOpacity": {"condition": {"test": "datum.value % 0.5 !== 0", "value": 0}, "value": 1}, "labelExpr": "datum.value % 0.5 === 0 ? format(datum.value, '.1f') : ''", "labelPadding": 8, "title": null}},
        "color": {"field": "traffic", "type": "nominal", "scale": {"domain": ["weekend", "working-day"], "range": ["#F8766D", "#00BFC4"]}, "legend": {"title": "traffic", "legendX": 985, "legendY": 404}}}},
      {"data": {"name": "fL_we_n"}, "mark": {"type": "area", "color": "#999999", "opacity": 0.5}, "encoding": {"x": {"field": "RH", "type": "quantitative"}, "y": {"field": "lo", "type": "quantitative"}, "y2": {"field": "hi"}}},
      {"data": {"name": "fL_we_n"}, "mark": {"type": "line", "color": "#000000", "strokeWidth": 5.5}, "encoding": {"x": {"field": "RH", "type": "quantitative"}, "y": {"field": "fit", "type": "quantitative"}}}
    ]},
    {"width": 440, "height": 391, "layer": [
      {"data": {"name": "L_wd_n"}, "mark": {"type": "circle", "size": 130, "opacity": 1}, "encoding": {
        "x": {"field": "RH", "type": "quantitative", "scale": {"domain": [47.7, 97.2], "nice": false, "zero": false}, "axis": {"values": [50,55,60,65,70,75,80,85,90,95], "gridWidth": {"condition": {"test": "datum.value % 10 !== 0", "value": 1.3}, "value": 2.6}, "tickOpacity": {"condition": {"test": "datum.value % 10 !== 0", "value": 0}, "value": 1}, "labelExpr": "datum.value % 10 === 0 ? '' + datum.value : ''", "labelAngle": -35, "labelAlign": "center", "labelBaseline": "middle", "labelPadding": 40, "title": null}},
        "y": {"field": "vd", "type": "quantitative", "scale": {"domain": [-0.12, 2.62], "nice": false, "zero": false}, "axis": {"values": [0,0.25,0.5,0.75,1,1.25,1.5,1.75,2,2.25,2.5], "gridWidth": {"condition": {"test": "datum.value % 0.5 !== 0", "value": 1.3}, "value": 2.6}, "labels": false, "ticks": false, "title": null}},
        "color": {"field": "traffic", "type": "nominal", "scale": {"domain": ["weekend", "working-day"], "range": ["#F8766D", "#00BFC4"]}, "legend": {"title": "traffic", "legendX": 985, "legendY": 404}}}},
      {"data": {"name": "fL_wd_n"}, "mark": {"type": "area", "color": "#999999", "opacity": 0.5}, "encoding": {"x": {"field": "RH", "type": "quantitative"}, "y": {"field": "lo", "type": "quantitative"}, "y2": {"field": "hi"}}},
      {"data": {"name": "fL_wd_n"}, "mark": {"type": "line", "color": "#000000", "strokeWidth": 5.5}, "encoding": {"x": {"field": "RH", "type": "quantitative"}, "y": {"field": "fit", "type": "quantitative"}}}
    ]},
    {"width": 73, "height": 391, "data": {"values": [{"time": "nighttime"}]}, "mark": {"type": "text", "fontSize": 33, "fontWeight": "bold", "angle": 90, "color": "#1A1A1A"}, "encoding": {"text": {"field": "time", "type": "nominal"}, "y": {"datum": 0.5, "type": "quantitative", "scale": {"domain": [0, 1]}, "axis": {"title": null, "labels": false, "ticks": false, "grid": false, "domain": false}}}}
  ]
},
{
  "columns": 3, "align": "each", "bounds": "flush", "spacing": 0,
  "concat": [
    {"width": 460, "height": 75, "data": {"values": [{"traffic": "weekend"}]}, "mark": {"type": "text", "fontSize": 33, "fontWeight": "bold", "color": "#1A1A1A"}, "encoding": {"text": {"field": "traffic", "type": "nominal"}, "y": {"datum": 0.5, "type": "quantitative", "scale": {"domain": [0, 1]}, "axis": {"title": "A", "titleFontSize": 22, "titleFontWeight": "bold", "titleColor": "#000000", "titleAngle": 0, "titleX": -162, "titleY": 15, "titleAlign": "left", "titleBaseline": "top", "labels": false, "ticks": false, "grid": false, "domain": false}}}},
    {"width": 460, "height": 75, "data": {"values": [{"traffic": "working-day"}]}, "mark": {"type": "text", "fontSize": 33, "fontWeight": "bold", "color": "#1A1A1A"}, "encoding": {"text": {"field": "traffic", "type": "nominal"}, "y": {"datum": 0.5, "type": "quantitative", "scale": {"domain": [0, 1]}, "axis": {"title": null, "labels": false, "ticks": false, "grid": false, "domain": false}}}},
    {"width": 75, "height": 75, "view": {"stroke": null}, "data": {"values": [{"k": ""}]}, "mark": {"type": "text"}, "encoding": {"text": {"field": "k", "type": "nominal"}}},
    {"width": 460, "height": 400, "layer": [
      {"data": {"name": "R_we_d"}, "mark": {"type": "circle", "size": 130, "opacity": 1}, "encoding": {
        "x": {"field": "depth", "type": "quantitative", "scale": {"domain": [-260, -40], "nice": false, "zero": false}, "axis": {"values": [-250,-225,-200,-175,-150,-125,-100,-75,-50], "gridWidth": {"condition": {"test": "datum.value % 10 !== 0", "value": 1.3}, "value": 2.6}, "labels": false, "ticks": false, "title": null}},
        "y": {"field": "vd", "type": "quantitative", "scale": {"domain": [-0.12, 2.62], "nice": false, "zero": false}, "axis": {"values": [0,0.25,0.5,0.75,1,1.25,1.5,1.75,2,2.25,2.5], "gridWidth": {"condition": {"test": "datum.value % 0.5 !== 0", "value": 1.3}, "value": 2.6}, "tickOpacity": {"condition": {"test": "datum.value % 0.5 !== 0", "value": 0}, "value": 1}, "labelExpr": "datum.value % 0.5 === 0 ? format(datum.value, '.1f') : ''", "labelPadding": 8, "title": "vd  (cm  s⁻¹)", "titleX": -108, "titleY": 400, "titleAngle": -90, "titleAlign": "center", "titleBaseline": "alphabetic"}},
        "color": {"field": "traffic", "type": "nominal", "scale": {"domain": ["weekend", "working-day"], "range": ["#F8766D", "#00BFC4"]}, "legend": {"title": "traffic", "legendX": 1029, "legendY": 405}}}},
      {"data": {"name": "fR_we_d"}, "mark": {"type": "area", "color": "#999999", "opacity": 0.5}, "encoding": {"x": {"field": "depth", "type": "quantitative"}, "y": {"field": "lo", "type": "quantitative"}, "y2": {"field": "hi"}}},
      {"data": {"name": "fR_we_d"}, "mark": {"type": "line", "color": "#000000", "strokeWidth": 5.5}, "encoding": {"x": {"field": "depth", "type": "quantitative"}, "y": {"field": "fit", "type": "quantitative"}}}
    ]},
    {"width": 460, "height": 400, "layer": [
      {"data": {"name": "R_wd_d"}, "mark": {"type": "circle", "size": 130, "opacity": 1}, "encoding": {
        "x": {"field": "depth", "type": "quantitative", "scale": {"domain": [-260, -40], "nice": false, "zero": false}, "axis": {"values": [-250,-225,-200,-175,-150,-125,-100,-75,-50], "gridWidth": {"condition": {"test": "datum.value % 10 !== 0", "value": 1.3}, "value": 2.6}, "labels": false, "ticks": false, "title": null}},
        "y": {"field": "vd", "type": "quantitative", "scale": {"domain": [-0.12, 2.62], "nice": false, "zero": false}, "axis": {"values": [0,0.25,0.5,0.75,1,1.25,1.5,1.75,2,2.25,2.5], "gridWidth": {"condition": {"test": "datum.value % 0.5 !== 0", "value": 1.3}, "value": 2.6}, "labels": false, "ticks": false, "title": null}},
        "color": {"field": "traffic", "type": "nominal", "scale": {"domain": ["weekend", "working-day"], "range": ["#F8766D", "#00BFC4"]}, "legend": {"title": "traffic", "legendX": 1029, "legendY": 405}}}},
      {"data": {"name": "fR_wd_d"}, "mark": {"type": "area", "color": "#999999", "opacity": 0.5}, "encoding": {"x": {"field": "depth", "type": "quantitative"}, "y": {"field": "lo", "type": "quantitative"}, "y2": {"field": "hi"}}},
      {"data": {"name": "fR_wd_d"}, "mark": {"type": "line", "color": "#000000", "strokeWidth": 5.5}, "encoding": {"x": {"field": "depth", "type": "quantitative"}, "y": {"field": "fit", "type": "quantitative"}}}
    ]},
    {"width": 75, "height": 400, "data": {"values": [{"time": "daytime"}]}, "mark": {"type": "text", "fontSize": 33, "fontWeight": "bold", "angle": 90, "color": "#1A1A1A"}, "encoding": {"text": {"field": "time", "type": "nominal"}, "y": {"datum": 0.5, "type": "quantitative", "scale": {"domain": [0, 1]}, "axis": {"title": null, "labels": false, "ticks": false, "grid": false, "domain": false}}}},
    {"width": 460, "height": 400, "layer": [
      {"data": {"name": "R_we_n"}, "mark": {"type": "circle", "size": 130, "opacity": 1}, "encoding": {
        "x": {"field": "depth", "type": "quantitative", "scale": {"domain": [-260, -40], "nice": false, "zero": false}, "axis": {"values": [-250,-225,-200,-175,-150,-125,-100,-75,-50], "gridWidth": {"condition": {"test": "datum.value % 10 !== 0", "value": 1.3}, "value": 2.6}, "tickOpacity": {"condition": {"test": "datum.value % 10 !== 0", "value": 0}, "value": 1}, "labelExpr": "datum.value % 10 === 0 ? '' + datum.value : ''", "labelAngle": -35, "labelAlign": "center", "labelBaseline": "middle", "labelPadding": 53, "title": "Depth of ground water table  (cm)", "titleX": 459.5, "titleY": 137, "titleAlign": "center", "titleBaseline": "alphabetic"}},
        "y": {"field": "vd", "type": "quantitative", "scale": {"domain": [-0.12, 2.62], "nice": false, "zero": false}, "axis": {"values": [0,0.25,0.5,0.75,1,1.25,1.5,1.75,2,2.25,2.5], "gridWidth": {"condition": {"test": "datum.value % 0.5 !== 0", "value": 1.3}, "value": 2.6}, "tickOpacity": {"condition": {"test": "datum.value % 0.5 !== 0", "value": 0}, "value": 1}, "labelExpr": "datum.value % 0.5 === 0 ? format(datum.value, '.1f') : ''", "labelPadding": 8, "title": null}},
        "color": {"field": "traffic", "type": "nominal", "scale": {"domain": ["weekend", "working-day"], "range": ["#F8766D", "#00BFC4"]}, "legend": {"title": "traffic", "legendX": 1029, "legendY": 405}}}},
      {"data": {"name": "fR_we_n"}, "mark": {"type": "area", "color": "#999999", "opacity": 0.5}, "encoding": {"x": {"field": "depth", "type": "quantitative"}, "y": {"field": "lo", "type": "quantitative"}, "y2": {"field": "hi"}}},
      {"data": {"name": "fR_we_n"}, "mark": {"type": "line", "color": "#000000", "strokeWidth": 5.5}, "encoding": {"x": {"field": "depth", "type": "quantitative"}, "y": {"field": "fit", "type": "quantitative"}}}
    ]},
    {"width": 460, "height": 400, "layer": [
      {"data": {"name": "R_wd_n"}, "mark": {"type": "circle", "size": 130, "opacity": 1}, "encoding": {
        "x": {"field": "depth", "type": "quantitative", "scale": {"domain": [-260, -40], "nice": false, "zero": false}, "axis": {"values": [-250,-225,-200,-175,-150,-125,-100,-75,-50], "gridWidth": {"condition": {"test": "datum.value % 10 !== 0", "value": 1.3}, "value": 2.6}, "tickOpacity": {"condition": {"test": "datum.value % 10 !== 0", "value": 0}, "value": 1}, "labelExpr": "datum.value % 10 === 0 ? '' + datum.value : ''", "labelAngle": -35, "labelAlign": "center", "labelBaseline": "middle", "labelPadding": 53, "title": null}},
        "y": {"field": "vd", "type": "quantitative", "scale": {"domain": [-0.12, 2.62], "nice": false, "zero": false}, "axis": {"values": [0,0.25,0.5,0.75,1,1.25,1.5,1.75,2,2.25,2.5], "gridWidth": {"condition": {"test": "datum.value % 0.5 !== 0", "value": 1.3}, "value": 2.6}, "labels": false, "ticks": false, "title": null}},
        "color": {"field": "traffic", "type": "nominal", "scale": {"domain": ["weekend", "working-day"], "range": ["#F8766D", "#00BFC4"]}, "legend": {"title": "traffic", "legendX": 1029, "legendY": 405}}}},
      {"data": {"name": "fR_wd_n"}, "mark": {"type": "area", "color": "#999999", "opacity": 0.5}, "encoding": {"x": {"field": "depth", "type": "quantitative"}, "y": {"field": "lo", "type": "quantitative"}, "y2": {"field": "hi"}}},
      {"data": {"name": "fR_wd_n"}, "mark": {"type": "line", "color": "#000000", "strokeWidth": 5.5}, "encoding": {"x": {"field": "depth", "type": "quantitative"}, "y": {"field": "fit", "type": "quantitative"}}}
    ]},
    {"width": 75, "height": 400, "data": {"values": [{"time": "nighttime"}]}, "mark": {"type": "text", "fontSize": 33, "fontWeight": "bold", "angle": 90, "color": "#1A1A1A"}, "encoding": {"text": {"field": "time", "type": "nominal"}, "y": {"datum": 0.5, "type": "quantitative", "scale": {"domain": [0, 1]}, "axis": {"title": null, "labels": false, "ticks": false, "grid": false, "domain": false}}}}
  ]
}
]
}
